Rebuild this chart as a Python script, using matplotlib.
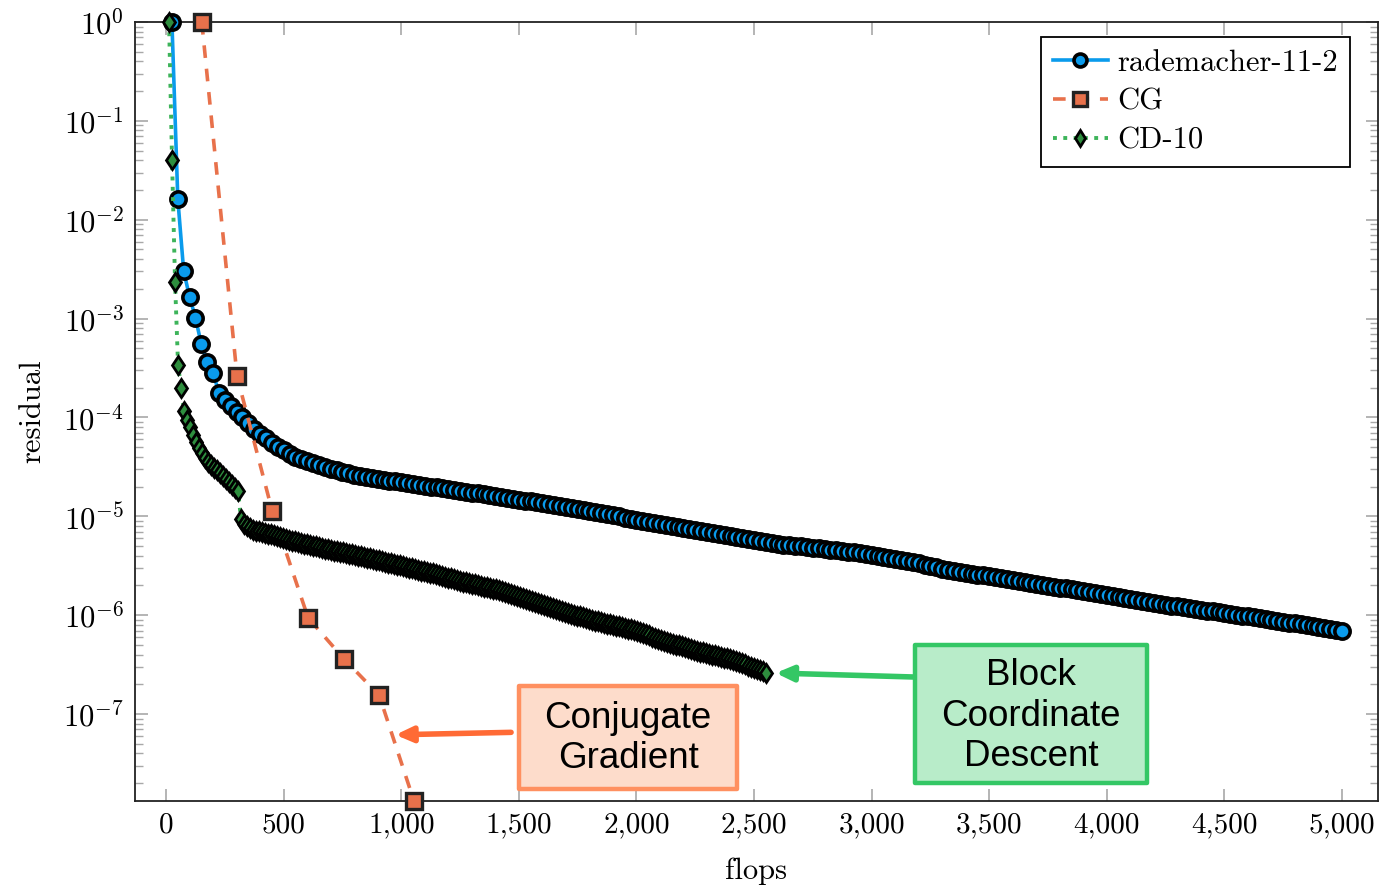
import numpy as np
import matplotlib
matplotlib.use("Agg")
import matplotlib.pyplot as plt
from matplotlib.ticker import FixedLocator, FuncFormatter, NullFormatter
from matplotlib.patches import Rectangle

plt.rcParams['font.family'] = 'cmr10'
plt.rcParams['mathtext.fontset'] = 'cm'
plt.rcParams['axes.unicode_minus'] = False
plt.rcParams['axes.formatter.use_mathtext'] = True

# ---------------- data (log10 of residual) ----------------
rademacher_step = 25.0
rademacher_log10 = [
    0, -1.79, -2.52, -2.78, -2.99, -3.26, -3.44, -3.55, -3.75, -3.82,
    -3.88, -3.94, -4.00, -4.06, -4.12, -4.17, -4.21, -4.26, -4.30, -4.33,
    -4.37, -4.40, -4.42, -4.44, -4.46, -4.48, -4.50, -4.52, -4.53, -4.55,
    -4.56, -4.58, -4.59, -4.60, -4.61, -4.62, -4.63, -4.64, -4.645, -4.65,
    -4.66, -4.67, -4.68, -4.69, -4.70, -4.705, -4.71, -4.72, -4.73, -4.74,
    -4.75, -4.76, -4.765, -4.77, -4.78, -4.79, -4.80, -4.81, -4.82, -4.83,
    -4.84, -4.85, -4.86, -4.87, -4.88, -4.89, -4.90, -4.91, -4.92, -4.93,
    -4.94, -4.95, -4.96, -4.97, -4.98, -4.99, -5.00, -5.015, -5.025, -5.035,
    -5.045, -5.055, -5.065, -5.075, -5.085, -5.095, -5.105, -5.115, -5.125, -5.135,
    -5.145, -5.155, -5.165, -5.175, -5.185, -5.195, -5.205, -5.215, -5.225, -5.235,
    -5.245, -5.255, -5.265, -5.275, -5.285, -5.29, -5.30, -5.305, -5.31, -5.32,
    -5.325, -5.33, -5.34, -5.345, -5.35, -5.36, -5.365, -5.37, -5.38, -5.39,
    -5.40, -5.41, -5.42, -5.43, -5.44, -5.45, -5.46, -5.475, -5.49, -5.50,
    -5.515, -5.53, -5.54, -5.55, -5.56, -5.57, -5.58, -5.59, -5.595, -5.605,
    -5.615, -5.625, -5.63, -5.64, -5.65, -5.66, -5.67, -5.68, -5.69, -5.70,
    -5.71, -5.72, -5.73, -5.74, -5.75, -5.76, -5.77, -5.78, -5.79, -5.80,
    -5.81, -5.82, -5.83, -5.84, -5.85, -5.86, -5.87, -5.88, -5.89, -5.895,
    -5.905, -5.91, -5.92, -5.93, -5.935, -5.945, -5.955, -5.96, -5.97, -5.98,
    -5.985, -5.995, -6.005, -6.01, -6.02, -6.03, -6.04, -6.045, -6.055, -6.065,
    -6.075, -6.08, -6.09, -6.10, -6.11, -6.12, -6.13, -6.14, -6.15, -6.16,
]

cg_flops = [152, 302, 451, 604, 757, 906, 1054]
cg_residual = [1.0, 2.6e-4, 1.14e-5, 9.4e-7, 3.6e-7, 1.55e-7, 1.32e-8]

cd_step = 12.75
cd_log10 = [
    0, -1.40, -2.63, -3.47, -3.70, -3.93, -4.03, -4.10, -4.18, -4.25,
    -4.31, -4.36, -4.41, -4.45, -4.48, -4.51, -4.53, -4.56, -4.59, -4.62,
    -4.65, -4.68, -4.71, -4.74,
    -5.03, -5.08, -5.10, -5.12, -5.135, -5.145, -5.15, -5.16, -5.165, -5.175,
    -5.18, -5.19, -5.20, -5.21, -5.215, -5.225, -5.235, -5.245, -5.25, -5.26,
    -5.267, -5.275, -5.282, -5.289, -5.296, -5.304, -5.311, -5.318, -5.326, -5.333, -5.34,
    -5.346, -5.353, -5.359, -5.365, -5.372, -5.378, -5.385, -5.391, -5.397, -5.404, -5.41,
    -5.417, -5.424, -5.432, -5.439, -5.446, -5.454, -5.461, -5.468, -5.475, -5.483, -5.49,
    -5.497, -5.505, -5.512, -5.519, -5.526, -5.534, -5.541, -5.548, -5.556, -5.563, -5.57,
    -5.578, -5.586, -5.595, -5.603, -5.611, -5.619, -5.627, -5.636, -5.644, -5.652, -5.66,
    -5.667, -5.675, -5.682, -5.689, -5.696, -5.704, -5.711, -5.718, -5.726, -5.733, -5.74,
    -5.75, -5.76, -5.77, -5.78, -5.79, -5.80, -5.81, -5.82, -5.83, -5.84, -5.85, -5.86,
    -5.87, -5.88, -5.89, -5.90, -5.91, -5.92, -5.93, -5.94, -5.95, -5.96, -5.97, -5.98,
    -5.988, -5.996, -6.005, -6.013, -6.021, -6.029, -6.037, -6.045, -6.054, -6.062, -6.07,
    -6.077, -6.085, -6.092, -6.099, -6.106, -6.114, -6.121, -6.128, -6.135, -6.143, -6.15,
    -6.161, -6.172, -6.183, -6.194, -6.205, -6.216, -6.227, -6.238, -6.249, -6.26, -6.27,
    -6.279, -6.288, -6.297, -6.306, -6.315, -6.324, -6.333, -6.342, -6.351, -6.36, -6.37,
    -6.377, -6.384, -6.392, -6.399, -6.406, -6.414, -6.421, -6.428, -6.435, -6.443, -6.45,
    -6.462, -6.474, -6.485, -6.497, -6.509, -6.521, -6.533, -6.544, -6.556, -6.568, -6.58,
]

x_ticks = [0, 500, 1000, 1500, 2000, 2500, 3000, 3500, 4000, 4500, 5000]
y_ticks_exp = [0, -1, -2, -3, -4, -5, -6, -7]

series_labels = ["rademacher-11-2", "CG", "CD-10"]

rad_flops = rademacher_step * np.arange(1, len(rademacher_log10) + 1)
rad_res = 10.0 ** np.array(rademacher_log10)
cd_flops = cd_step * np.arange(1, len(cd_log10) + 1)
cd_res = 10.0 ** np.array(cd_log10)

# ---------------- figure ----------------
W, H = 1380, 888
fig = plt.figure(figsize=(W / 100, H / 100), dpi=100)
ax = fig.add_axes([135 / W, 1 - 801 / H, (1378 - 135) / W, (801 - 22) / H])
ax.set_yscale('log')

blue = '#0a9bec'
orange = '#e8714b'
green = '#3db45a'

l1, = ax.plot(rad_flops, rad_res, '-', color=blue, lw=2.6, marker='o', ms=11,
              mfc=blue, mec='black', mew=2.6, zorder=3, clip_on=False)
l2, = ax.plot(cg_flops, cg_residual, '--', color=orange, lw=2.6, dashes=(3.5, 3.0),
              marker='s', ms=12, mfc=orange, mec='#222222', mew=2.4, zorder=4, clip_on=False)
l3, = ax.plot(cd_flops, cd_res, ':', color=green, lw=2.8, marker='d', ms=9.5,
              mfc='#2e8e3e', mec='black', mew=2.0, zorder=5, clip_on=False)

ax.set_xlim(-132, 5153)
ax.set_ylim(1.32e-8, 1.0)

ax.xaxis.set_major_locator(FixedLocator(x_ticks))
ax.xaxis.set_major_formatter(FuncFormatter(lambda v, p: f"{int(round(v)):,}"))
ax.yaxis.set_major_locator(FixedLocator([10.0 ** e for e in y_ticks_exp]))
ax.yaxis.set_major_formatter(FuncFormatter(lambda v, p: r"$10^{%d}$" % int(round(np.log10(v)))))
minor = [m * 10.0 ** e for e in range(-8, 0) for m in range(2, 10)]
ax.yaxis.set_minor_locator(FixedLocator(minor))
ax.yaxis.set_minor_formatter(NullFormatter())

tick_gray = '#a8a8a8'
ax.tick_params(axis='both', which='major', direction='in', length=9, width=1.2,
               color=tick_gray, labelsize=21, top=True, right=True, pad=8)
ax.tick_params(axis='y', which='minor', direction='in', length=5.5, width=1.0,
               color=tick_gray, left=True, right=True)
ax.tick_params(axis='x', which='minor', bottom=False, top=False)
for lab in ax.get_yticklabels():
    lab.set_fontsize(22)
for s in ax.spines.values():
    s.set_linewidth(1.3)
    s.set_color('#222222')

ax.set_xlabel('flops', fontsize=22, labelpad=14)
ax.set_ylabel('residual', fontsize=22, labelpad=12)

leg = ax.legend([l1, l2, l3], series_labels, loc='upper right',
                bbox_to_anchor=(1 - 28 / 1243, 1 - 15 / 779), fontsize=22,
                frameon=True, fancybox=False, edgecolor='black', framealpha=1,
                handlelength=1.8, handletextpad=0.3, borderpad=0.4,
                labelspacing=0.38, borderaxespad=0, markerscale=0.85)
leg.get_frame().set_linewidth(1.3)

# ---------------- annotations ----------------
sans = ['Liberation Sans', 'DejaVu Sans']
ax.add_patch(Rectangle((1501, 10 ** -7.755), 2428 - 1501, 10 ** -6.72 - 10 ** -7.755,
                       facecolor='#fddccb', edgecolor='#ff9060', lw=3.2, zorder=6,
                       joinstyle='round'))
ax.text(1965, 10 ** -7.245, 'Conjugate\nGradient', ha='center', va='center',
        fontsize=26.5, family=sans, linespacing=1.2, zorder=7)
ax.annotate('', xy=(975, 10 ** -7.21), xytext=(1467, 10 ** -7.185),
            arrowprops=dict(arrowstyle='-|>,head_length=1.0,head_width=0.45',
                            color='#ff6a35', lw=4, shrinkA=0, shrinkB=0), zorder=7)

ax.add_patch(Rectangle((3185, 10 ** -7.70), 4171 - 3185, 10 ** -6.30 - 10 ** -7.70,
                       facecolor='#b8ecc9', edgecolor='#34c765', lw=3.2, zorder=6,
                       joinstyle='round'))
ax.text(3678, 10 ** -7.02, 'Block\nCoordinate\nDescent', ha='center', va='center',
        fontsize=26.5, family=sans, linespacing=1.2, zorder=7)
ax.annotate('', xy=(2592, 10 ** -6.585), xytext=(3176, 10 ** -6.625),
            arrowprops=dict(arrowstyle='-|>,head_length=1.0,head_width=0.45',
                            color='#34c765', lw=4, shrinkA=0, shrinkB=0), zorder=7)

fig.savefig('out.png', dpi=100)
